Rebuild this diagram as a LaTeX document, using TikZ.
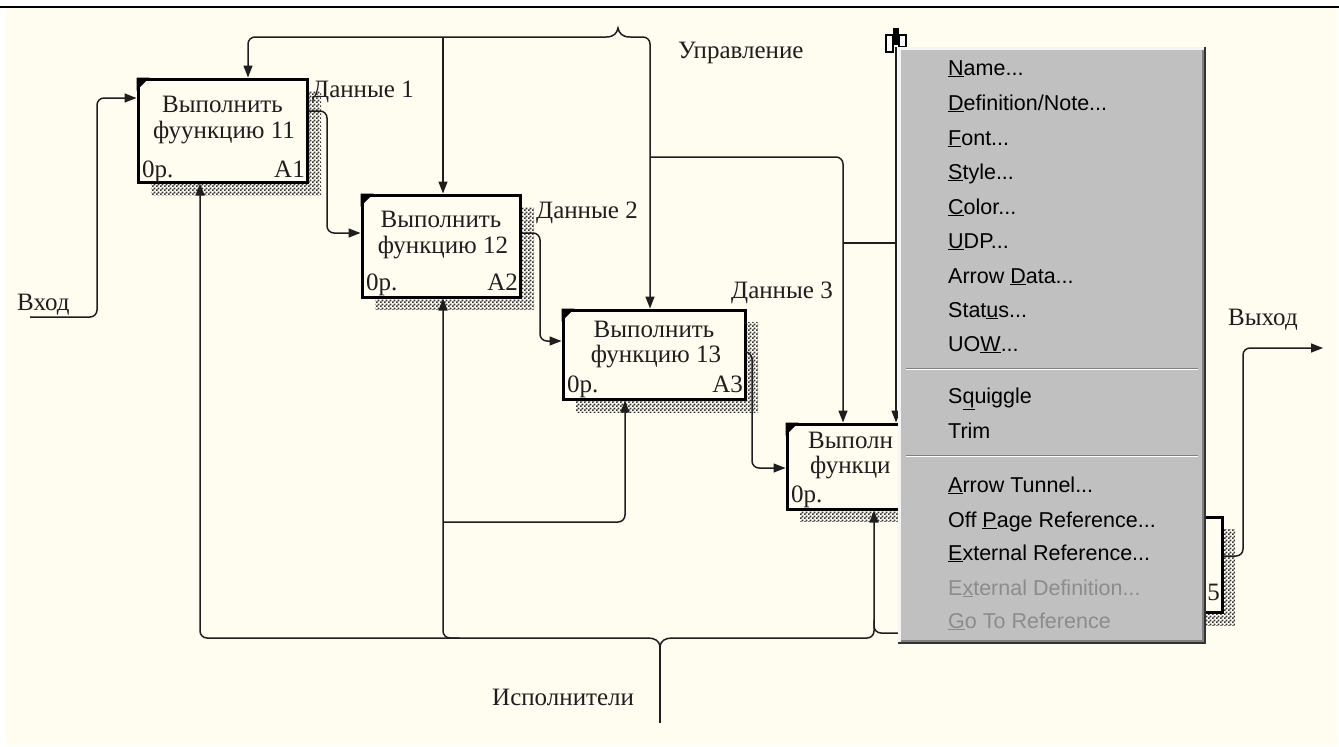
\documentclass[tikz,border=0pt]{standalone}
\usepackage{fontspec}
\setmainfont{Liberation Serif}
\newfontfamily\menufont{Liberation Sans}
\usetikzlibrary{patterns,arrows.meta,calc}
\definecolor{cream}{RGB}{255,252,240}
\definecolor{menugray}{RGB}{192,192,192}
\definecolor{ink}{RGB}{30,30,30}
\pgfdeclarepatternformonly{ckdots}{\pgfpointorigin}{\pgfqpoint{4pt}{4pt}}{\pgfqpoint{4pt}{4pt}}{%
  \pgfpathrectangle{\pgfpointorigin}{\pgfqpoint{2.1pt}{2.1pt}}%
  \pgfpathrectangle{\pgfqpoint{2pt}{2pt}}{\pgfqpoint{2.1pt}{2.1pt}}%
  \pgfusepath{fill}}
\begin{document}
\begin{tikzpicture}[x=1pt,y=-1pt,
  lbl/.style={font=\fontsize{25}{26}\selectfont, inner sep=0pt, anchor=base west, text=ink},
  lblc/.style={lbl, anchor=base},
  lble/.style={lbl, anchor=base east},
  fbox/.style={draw=black, line width=3pt, fill=cream, inner sep=0pt, outer sep=1.5pt},
  conn/.style={draw=ink, line width=1.5pt, rounded corners=7pt},
  arr/.style={conn, -{Triangle[length=12pt,width=9pt]}},
  shade/.style={pattern=ckdots, pattern color=black!80},
  mi/.style={font=\menufont\fontsize{21.5}{24}\selectfont, inner sep=0pt, anchor=base west, text=black},
  mid/.style={mi, text=black!45},
  ]
\useasboundingbox (0,0) rectangle (1339,747);
\fill[white] (0,0) rectangle (1339,747);
\fill[cream] (6,8) rectangle (1337,745);
\draw[black, line width=1.6pt] (0,7) -- (1339,7);

% shadows
\fill[shade] (151,91) rectangle (321,195);
\fill[shade] (375,207) rectangle (534,309);
\fill[shade] (576,322) rectangle (758,412);
\fill[shade] (800,436) rectangle (982,521);
\fill[shade] (1053,529) rectangle (1235,625);

% boxes
\node[fbox, minimum width=169pt, minimum height=103pt] (b1) at (222.5,130.5) {};
\node[fbox, minimum width=158pt, minimum height=102pt] (b2) at (441,246) {};
\node[fbox, minimum width=182pt, minimum height=89pt] (b3) at (654,354.5) {};
\node[fbox, minimum width=182pt, minimum height=85pt] (b4) at (878,466.5) {};
\node[fbox, minimum width=182pt, minimum height=95pt] (b5) at (1131,564.5) {};
\foreach \b in {b1,b2,b3,b4,b5}{
  \fill[black] (\b.north west) -- ++(13,0) -- ++(-13,13) -- cycle;
}

% box texts
\node[lblc] (t1a) at (222.5,112) {Выполнить};
\node[lblc] (t1b) at (224,138) {фуункцию 11};
\node[lbl]  (t1c) at (142,177) {0р.};
\node[lble] (t1d) at (305,177) {A1};
\node[lblc] (t2a) at (441,227) {Выполнить};
\node[lblc] (t2b) at (443,253) {функцию 12};
\node[lbl]  (t2c) at (366,290) {0р.};
\node[lble] (t2d) at (518,290) {A2};
\node[lblc] (t3a) at (654,337) {Выполнить};
\node[lblc] (t3b) at (656,362) {функцию 13};
\node[lbl]  (t3c) at (567,392) {0р.};
\node[lble] (t3d) at (743,392) {A3};
\node[lbl]  (t4a) at (808,448) {Выполн};
\node[lbl]  (t4b) at (810,473) {функци};
\node[lbl]  (t4c) at (791,502) {0р.};
\node[lble] (t5d) at (1220,600) {5};

% arrow labels
\node[lbl] (ld1) at (312,97) {Данные 1};
\node[lbl] (ld2) at (536,218) {Данные 2};
\node[lbl] (ld3) at (731,298) {Данные 3};
\node[lbl] (lup) at (678,58) {Управление};
\node[lbl] (lin) at (17,310) {Вход};
\node[lbl] (lout) at (1228,325) {Выход};
\node[lbl] (lmech) at (492,705) {Исполнители};

% helper coordinates
\coordinate (inS) at (30,317);
\coordinate (inA) at (97,317);
\coordinate (in1) at (97,98);
\coordinate (cBL) at (606,37);
\coordinate (cBR) at (630,37);
\coordinate (cL) at (248,37);
\coordinate (cM) at (443,37);
\coordinate (cR) at (650,37);
\coordinate (cR2) at (650,157);
\coordinate (c4a) at (843,157);
\coordinate (c4b) at (843,243);
\coordinate (c4c) at (896,243);
\coordinate (c4top) at (896,47);
\coordinate (d1) at (327,111);
\coordinate (d1b) at (327,233);
\coordinate (d2) at (540,233);
\coordinate (d2b) at (540,341);
\coordinate (d3) at (752,352);
\coordinate (d3b) at (752,468);
\coordinate (o1) at (1243,556);
\coordinate (o2) at (1243,348);
\coordinate (oE) at (1323,348);
\coordinate (mS) at (660,723);
\coordinate (mJ) at (660,646);
\coordinate (mBL) at (648,638);
\coordinate (mBR) at (672,638);
\coordinate (m1) at (200,638);
\coordinate (m2) at (443,638);
\coordinate (m2r) at (460,638);
\coordinate (m3a) at (443,522);
\coordinate (m3) at (625,522);
\coordinate (m4) at (874,638);
\coordinate (m4u) at (874,620);
\coordinate (m4c) at (874,633);
\coordinate (m4e) at (910,633);

% input
\draw[arr] (inS) -- (inA) -- (in1) -- (b1.west |- in1);
% controls
\draw[conn, rounded corners=0pt] (cBL) .. controls (614,37) and (617,33) .. (618,28)
   .. controls (619,33) and (622,37) .. (cBR);
\draw[arr] (cBL) -- (cL) -- (b1.north -| cL);
\draw[arr] (cM) -- (b2.north -| cM);
\draw[arr] (cBR) -- (cR) -- (b3.north -| cR);
\draw[arr] (cR2) -- (c4a) -- (b4.north -| c4a);
\draw[conn] (c4b) -- (c4c);
\draw[arr] (c4top) -- (b4.north -| c4top);
% data
\draw[arr] (b1.east |- d1) -- (d1) -- (d1b) -- (b2.west |- d1b);
\draw[arr] (b2.east |- d2) -- (d2) -- (d2b) -- (b3.west |- d2b);
\draw[arr] (b3.east |- d3) -- (d3) -- (d3b) -- (b4.west |- d3b);
\draw[arr] (b5.east |- o1) -- (o1) -- (o2) -- (oE);
% mechanisms
\draw[conn] (mS) -- (mJ);
\draw[conn, rounded corners=0pt] (mBL) .. controls (655,638) and (659,641) .. (mJ)
   .. controls (661,641) and (665,638) .. (mBR);
\draw[arr] (mBL) -- (m1) -- (b1.south -| m1);
\draw[arr] (m2r) -- (m2) -- (b2.south -| m2);
\draw[arr] (m3a) -- (m3) -- (b3.south -| m3);
\draw[arr] (mBR) -- (m4) -- (b4.south -| m4);
\draw[conn] (m4u) -- (m4c) -- (m4e);

% cursor glyph
\draw[black, line width=1.2pt, fill=white] (886,35) rectangle (893,52);
\fill[black] (893,28) rectangle (899,45);
\draw[black, line width=1.2pt, fill=white] (899,35) rectangle (906,47);

% context menu
\fill[black!80] (898,47) rectangle (1206,644);
\fill[white!92!gray] (898,47) rectangle (1204,642);
\fill[gray] (901,50) rectangle (1204,642);
\fill[menugray] (901,50) rectangle (1202,640);
\foreach \yy in {368,455}{
  \draw[black!50, line width=1pt] (906,\yy+0.5) -- (1198,\yy+0.5);
  \draw[white, line width=1pt] (906,\yy+1.5) -- (1198,\yy+1.5);
}
\node[mi] (i1) at (948,75) {\underline{N}ame...};
\node[mi] (i2) at (948,110) {\underline{D}efinition/Note...};
\node[mi] (i3) at (948,145) {\underline{F}ont...};
\node[mi] (i4) at (948,179) {\underline{S}tyle...};
\node[mi] (i5) at (948,214) {\underline{C}olor...};
\node[mi] (i6) at (948,248) {\underline{U}DP...};
\node[mi] (i7) at (948,283) {Arrow \underline{D}ata...};
\node[mi] (i8) at (948,317) {Stat\underline{u}s...};
\node[mi] (i9) at (948,351) {UO\underline{W}...};
\node[mi] (i10) at (948,403) {S\underline{q}uiggle};
\node[mi] (i11) at (948,438) {Trim};
\node[mi] (i12) at (948,492) {\underline{A}rrow Tunnel...};
\node[mi] (i13) at (948,527) {Off \underline{P}age Reference...};
\node[mi] (i14) at (948,560) {\underline{E}xternal Reference...};
\node[mid] (i15) at (948,595) {E\underline{x}ternal Definition...};
\node[mid] (i16) at (948,628) {\underline{G}o To Reference};
\end{tikzpicture}
\end{document}
